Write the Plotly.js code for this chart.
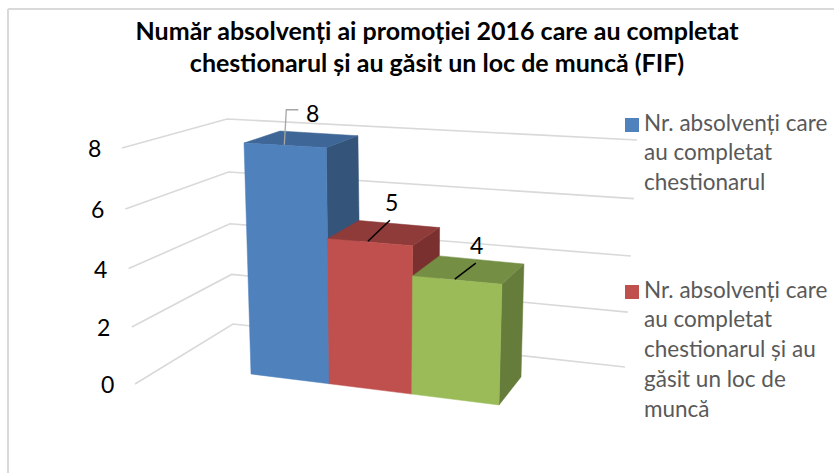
<!DOCTYPE html>
<html>
<head>
<meta charset="utf-8">
<script src="https://cdn.plot.ly/plotly-3.0.1.min.js"></script>
<style>html,body{margin:0;padding:0;background:#fff;overflow:hidden}#chart{width:834px;height:473px}</style>
</head>
<body>
<div id="chart"></div>
<script>
// Data
const barNames = ["Nr. absolvenți care au completat chestionarul", "Nr. absolvenți care au completat chestionarul și au găsit un loc de muncă", "Absolvenți ai promoției 2016 (FIF)"];
const barValues = [8, 5, 4];
const tickValues = [0, 2, 4, 6, 8];
const legendLines = [
  ["Nr. absolvenți care", "au completat", "chestionarul"],
  ["Nr. absolvenți care", "au completat", "chestionarul și au", "găsit un loc de", "muncă"]
];
const titleText = "Număr absolvenți ai promoției 2016 care au completat<br>chestionarul și au găsit un loc de muncă (FIF)";

// Styles
const frontColors = ["#4F81BD", "#C0504D", "#9BBB59"];
const topColors = ["#3E6696", "#8E3B39", "#748E44"];
const sideColors = ["#345479", "#7A302E", "#657C3A"];
const leaderColors = ["#A6A6A6", "#000000", "#000000"];
const legendColors = ["#4F81BD", "#C0504D"];
const gridColor = "#D9D9D9";

// 3D projection onto the page: perspective warp plus the corners of the plot box
const warp = (s, k) => s / (s + (1 - s) * k);
const mix = (a, b, t) => [a[0] + (b[0] - a[0]) * t, a[1] + (b[1] - a[1]) * t];
const vMax = 8, nCats = barValues.length;
const boxFront = { bl: [251, 374], br: [499, 405], tl: [244, 143], tr: [505, 158] };
const boxBack  = { bl: [287, 346], br: [521, 377], tl: [280, 131], tr: [527, 146] };
function project(x, v, z) {
  const tx = warp(x / nCats, 1.085), tv = warp(v / vMax, 1.045);
  const f = mix(mix(boxFront.bl, boxFront.br, tx), mix(boxFront.tl, boxFront.tr, tx), tv);
  const b = mix(mix(boxBack.bl, boxBack.br, tx), mix(boxBack.tl, boxBack.tr, tx), tv);
  return mix(f, b, z);
}
const wallFront = [[135, 384], [122, 148]];
const wallBack = [[233, 324], [227, 119]];
const wallRight = [[625, 367], [637, 140]];
const wall = (w, v) => mix(w[0], w[1], warp(v / vMax, 1.045));

function poly(points, color, name) {
  return {
    type: "scatter", mode: "lines", fill: "toself", fillcolor: color, name,
    x: points.map(p => p[0]).concat(points[0][0]),
    y: points.map(p => p[1]).concat(points[0][1]),
    line: { color, width: 0.5 }, hoverinfo: "skip", showlegend: false
  };
}

const traces = [];
const annotations = [];
const textStyle = (size, color) => ({ family: "Lato, Carlito, sans-serif", size, color });

// Walls and tick labels
tickValues.forEach(v => {
  const pts = [wall(wallFront, v), wall(wallBack, v), wall(wallRight, v)];
  traces.push({
    type: "scatter", mode: "lines", x: pts.map(p => p[0]), y: pts.map(p => p[1]),
    line: { color: gridColor, width: 1.6 }, hoverinfo: "skip", showlegend: false
  });
  annotations.push({
    x: pts[0][0] - 28, y: pts[0][1], xref: "x", yref: "y", text: String(v), showarrow: false,
    xanchor: "center", yanchor: "middle", font: textStyle(23, "#000000")
  });
});

// Bars
barValues.forEach((val, i) => {
  const p = (x, v, z) => project(x, v, z);
  traces.push(poly([p(i + 1, 0, 0), p(i + 1, 0, 1), p(i + 1, val, 1), p(i + 1, val, 0)], sideColors[i], barNames[i] + " (side)"));
  traces.push(poly([p(i, val, 0), p(i + 1, val, 0), p(i + 1, val, 1), p(i, val, 1)], topColors[i], barNames[i] + " (top)"));
  traces.push(poly([p(i, 0, 0), p(i + 1, 0, 0), p(i + 1, val, 0), p(i, val, 0)], frontColors[i], barNames[i]));
});

// Data labels with leader lines
const leaderOffsets = [[[0, 0], [2, -35], [14, -35]], [[0, 0], [22, -21]], [[0, 0], [21, -16]]];
const labelOffsets = [[28, -32], [24, -39], [22, -34]];
const leaderShift = [[-2, 0], [-3, 0], [-3, 0]];
barValues.forEach((val, i) => {
  const c = project(i + 0.5, val, 0.05);
  const a = [c[0] + leaderShift[i][0], c[1] + leaderShift[i][1]];
  traces.push({
    type: "scatter", mode: "lines",
    x: leaderOffsets[i].map(o => a[0] + o[0]), y: leaderOffsets[i].map(o => a[1] + o[1]),
    line: { color: leaderColors[i], width: i === 0 ? 1.3 : 1.5 }, hoverinfo: "skip", showlegend: false
  });
  annotations.push({
    x: a[0] + labelOffsets[i][0], y: a[1] + labelOffsets[i][1], xref: "x", yref: "y", text: String(val),
    showarrow: false, xanchor: "center", yanchor: "middle", font: textStyle(23, "#000000")
  });
});

// Legend
const legendX = 632, legendTextX = 645, legendTop = [122, 289], legendPitch = 29.8, swatchDrop = 3;
traces.push({
  type: "scatter", mode: "markers", x: legendTop.map(() => legendX), y: legendTop.map(t => t + swatchDrop),
  marker: { symbol: "square", size: 14, color: legendColors, line: { width: 0 } },
  hoverinfo: "skip", showlegend: false
});
legendLines.forEach((lines, s) => lines.forEach((t, j) => {
  annotations.push({
    x: legendTextX, y: legendTop[s] + j * legendPitch, xref: "x", yref: "y", text: t, showarrow: false,
    xanchor: "left", yanchor: "middle", xshift: -3, font: textStyle(22.5, "#595959")
  });
}));

const hidden = { visible: false, fixedrange: true };
const layout = {
  width: 834, height: 473,
  margin: { l: 0, r: 0, t: 0, b: 0 },
  paper_bgcolor: "#FFFFFF", plot_bgcolor: "#FFFFFF",
  showlegend: false,
  title: {
    text: titleText, x: 0.524, xanchor: "center", y: 0.916, yanchor: "middle", yref: "container",
    font: { family: "Lato, Carlito, sans-serif", size: 25, color: "#000000", weight: 700 }
  },
  xaxis: Object.assign({ range: [0, 834] }, hidden),
  yaxis: Object.assign({ range: [473, 0] }, hidden),
  annotations,
  shapes: [
    { type: "line", xref: "x", yref: "y", x0: 8, x1: 8, y0: 9, y1: 473, line: { color: gridColor, width: 2 } },
    { type: "line", xref: "x", yref: "y", x0: 8, x1: 834, y0: 9, y1: 9, line: { color: gridColor, width: 2 } }
  ]
};
Plotly.newPlot("chart", traces, layout, { displayModeBar: false, responsive: false });
</script>
</body>
</html>
